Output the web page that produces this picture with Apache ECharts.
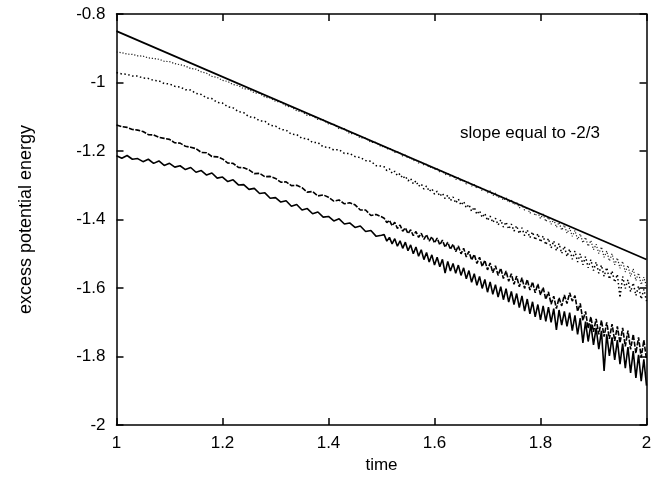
<!DOCTYPE html>
<html>
<head>
<meta charset="utf-8">
<script src="https://cdn.jsdelivr.net/npm/echarts@6/dist/echarts.min.js"></script>
<style>html,body{margin:0;padding:0;background:#fff;}#c{width:664px;height:479px;}</style>
</head>
<body>
<div id="c"></div>
<script>
const times = [1.00,1.01,1.02,1.03,1.04,1.05,1.06,1.07,1.08,1.09,
1.10,1.11,1.12,1.13,1.14,1.15,1.16,1.17,1.18,1.19,
1.20,1.21,1.22,1.23,1.24,1.25,1.26,1.27,1.28,1.29,
1.30,1.31,1.32,1.33,1.34,1.35,1.36,1.37,1.38,1.39,
1.40,1.41,1.42,1.43,1.44,1.45,1.46,1.47,1.48,1.49,1.50,
1.505,1.510,1.515,1.520,1.525,1.530,1.535,1.540,1.545,1.550,
1.555,1.560,1.565,1.570,1.575,1.580,1.585,1.590,1.595,1.600,
1.605,1.610,1.615,1.620,1.625,1.630,1.635,1.640,1.645,1.650,
1.655,1.660,1.665,1.670,1.675,1.680,1.685,1.690,1.695,1.700,
1.705,1.710,1.715,1.720,1.725,1.730,1.735,1.740,1.745,1.750,
1.755,1.760,1.765,1.770,1.775,1.780,1.785,1.790,1.795,1.800,
1.805,1.810,1.815,1.820,1.825,1.830,1.835,1.840,1.845,1.850,
1.855,1.860,1.865,1.870,1.875,1.880,1.885,1.890,1.895,1.900,
1.905,1.910,1.915,1.920,1.925,1.930,1.935,1.940,1.945,1.950,
1.955,1.960,1.965,1.970,1.975,1.980,1.985,1.990,1.995,2.000];

const run1 = [-0.911,-0.913,-0.917,-0.918,-0.922,-0.923,-0.928,-0.930,-0.932,-0.938,
-0.939,-0.945,-0.948,-0.952,-0.959,-0.961,-0.969,-0.973,-0.982,-0.985,
-0.994,-0.997,-1.006,-1.009,-1.018,-1.020,-1.030,-1.032,-1.043,-1.045,
-1.055,-1.057,-1.069,-1.071,-1.083,-1.085,-1.096,-1.097,-1.108,-1.109,
-1.121,-1.122,-1.135,-1.135,-1.149,-1.149,-1.162,-1.162,-1.175,-1.175,-1.188,
-1.186,-1.194,-1.192,-1.197,-1.204,-1.202,-1.206,-1.215,-1.212,-1.221,
-1.219,-1.228,-1.226,-1.235,-1.233,-1.241,-1.239,-1.249,-1.246,-1.254,
-1.251,-1.262,-1.258,-1.269,-1.265,-1.275,-1.271,-1.283,-1.278,-1.289,
-1.284,-1.296,-1.290,-1.302,-1.298,-1.309,-1.303,-1.316,-1.311,-1.322,
-1.316,-1.330,-1.323,-1.336,-1.331,-1.344,-1.336,-1.350,-1.343,-1.357,
-1.350,-1.366,-1.357,-1.373,-1.364,-1.382,-1.371,-1.389,-1.379,-1.397,
-1.384,-1.406,-1.393,-1.414,-1.399,-1.423,-1.408,-1.431,-1.416,-1.440,
-1.425,-1.449,-1.432,-1.458,-1.442,-1.468,-1.452,-1.478,-1.461,-1.488,
-1.472,-1.499,-1.480,-1.510,-1.492,-1.521,-1.500,-1.532,-1.512,-1.542,
-1.522,-1.553,-1.534,-1.566,-1.544,-1.578,-1.556,-1.590,-1.568,-1.596];

const run2 = [-0.971,-0.975,-0.976,-0.981,-0.981,-0.987,-0.988,-0.994,-0.995,-1.003,
-1.004,-1.011,-1.013,-1.021,-1.022,-1.032,-1.035,-1.045,-1.047,-1.058,
-1.060,-1.071,-1.074,-1.085,-1.088,-1.100,-1.102,-1.112,-1.113,-1.125,
-1.127,-1.137,-1.139,-1.151,-1.152,-1.163,-1.164,-1.175,-1.175,-1.188,
-1.189,-1.197,-1.196,-1.207,-1.207,-1.216,-1.219,-1.228,-1.230,-1.243,-1.244,
-1.246,-1.257,-1.252,-1.265,-1.259,-1.272,-1.266,-1.280,-1.273,-1.287,
-1.280,-1.296,-1.287,-1.303,-1.296,-1.311,-1.302,-1.318,-1.310,-1.326,
-1.317,-1.332,-1.323,-1.339,-1.329,-1.345,-1.334,-1.352,-1.340,-1.358,
-1.347,-1.366,-1.356,-1.376,-1.364,-1.385,-1.374,-1.394,-1.382,-1.403,
-1.390,-1.409,-1.396,-1.416,-1.401,-1.422,-1.407,-1.428,-1.413,-1.434,
-1.418,-1.441,-1.424,-1.447,-1.430,-1.453,-1.436,-1.460,-1.441,-1.466,
-1.448,-1.474,-1.455,-1.483,-1.462,-1.491,-1.470,-1.499,-1.478,-1.508,
-1.486,-1.516,-1.492,-1.524,-1.500,-1.532,-1.508,-1.541,-1.517,-1.549,
-1.524,-1.557,-1.533,-1.566,-1.540,-1.574,-1.550,-1.583,-1.560,-1.628,
-1.566,-1.601,-1.576,-1.611,-1.585,-1.622,-1.594,-1.632,-1.604,-1.638];

const run3 = [-1.124,-1.129,-1.131,-1.137,-1.139,-1.143,-1.152,-1.153,-1.160,-1.163,
-1.166,-1.176,-1.177,-1.186,-1.189,-1.193,-1.204,-1.205,-1.216,-1.217,
-1.223,-1.235,-1.236,-1.248,-1.249,-1.255,-1.266,-1.265,-1.275,-1.274,
-1.280,-1.291,-1.290,-1.301,-1.300,-1.307,-1.320,-1.318,-1.331,-1.328,
-1.335,-1.346,-1.343,-1.354,-1.351,-1.357,-1.372,-1.372,-1.388,-1.385,-1.392,
-1.396,-1.409,-1.402,-1.418,-1.408,-1.426,-1.416,-1.434,-1.424,-1.441,
-1.430,-1.447,-1.435,-1.452,-1.440,-1.458,-1.444,-1.463,-1.450,-1.468,
-1.454,-1.474,-1.460,-1.481,-1.466,-1.487,-1.472,-1.494,-1.477,-1.500,
-1.484,-1.509,-1.493,-1.518,-1.502,-1.528,-1.510,-1.537,-1.519,-1.547,
-1.527,-1.555,-1.535,-1.563,-1.542,-1.572,-1.550,-1.580,-1.558,-1.589,
-1.565,-1.596,-1.570,-1.601,-1.575,-1.606,-1.582,-1.614,-1.588,-1.620,
-1.598,-1.633,-1.611,-1.647,-1.624,-1.660,-1.628,-1.652,-1.620,-1.645,
-1.614,-1.638,-1.622,-1.668,-1.645,-1.695,-1.668,-1.718,-1.684,-1.728,
-1.690,-1.735,-1.694,-1.742,-1.700,-1.748,-1.705,-1.754,-1.712,-1.760,
-1.716,-1.770,-1.724,-1.779,-1.735,-1.790,-1.744,-1.802,-1.752,-1.808];

const run4 = [-1.214,-1.221,-1.213,-1.224,-1.222,-1.231,-1.224,-1.236,-1.229,-1.242,
-1.236,-1.247,-1.243,-1.254,-1.248,-1.262,-1.257,-1.270,-1.264,-1.279,
-1.276,-1.289,-1.284,-1.299,-1.298,-1.312,-1.309,-1.324,-1.322,-1.338,
-1.336,-1.349,-1.345,-1.361,-1.356,-1.372,-1.368,-1.383,-1.378,-1.393,
-1.391,-1.404,-1.398,-1.413,-1.410,-1.423,-1.419,-1.435,-1.432,-1.449,-1.446,
-1.444,-1.463,-1.452,-1.471,-1.456,-1.478,-1.462,-1.484,-1.466,-1.491,
-1.474,-1.500,-1.480,-1.507,-1.488,-1.517,-1.496,-1.524,-1.503,-1.533,
-1.510,-1.538,-1.516,-1.556,-1.522,-1.550,-1.528,-1.557,-1.533,-1.563,
-1.541,-1.573,-1.549,-1.583,-1.558,-1.592,-1.566,-1.601,-1.575,-1.612,
-1.582,-1.618,-1.590,-1.626,-1.596,-1.634,-1.602,-1.641,-1.610,-1.648,
-1.616,-1.657,-1.623,-1.667,-1.632,-1.675,-1.640,-1.684,-1.648,-1.693,
-1.652,-1.697,-1.656,-1.700,-1.660,-1.722,-1.664,-1.708,-1.668,-1.712,
-1.672,-1.724,-1.680,-1.735,-1.688,-1.760,-1.698,-1.756,-1.706,-1.766,
-1.716,-1.778,-1.725,-1.842,-1.735,-1.798,-1.744,-1.810,-1.752,-1.822,
-1.762,-1.834,-1.772,-1.848,-1.784,-1.862,-1.795,-1.872,-1.808,-1.885];

const slopeX = [1, 2];
const slopeY = [-0.85, -1.5167];

const xTicks = [1, 1.2, 1.4, 1.6, 1.8, 2];
const yTicks = [-2, -1.8, -1.6, -1.4, -1.2, -1, -0.8];

function zip(xs, ys) { return xs.map((x, i) => [x, ys[i]]); }

const font = 'Liberation Sans, Arial, Helvetica, sans-serif';
const chart = echarts.init(document.getElementById('c'), null, {renderer: 'canvas'});

const axisLine = {show: true, lineStyle: {color: '#000', width: 1.5}};
const tick = {show: true, inside: true, length: 7, lineStyle: {color: '#000', width: 1.5}};

chart.setOption({
  animation: false,
  backgroundColor: '#fff',
  grid: {left: 116.5, right: 17.5, top: 14, bottom: 50.5, containLabel: false},
  xAxis: [{
    type: 'value', min: xTicks[0], max: xTicks[xTicks.length - 1], interval: 0.2,
    position: 'bottom',
    name: 'time', nameLocation: 'middle', nameGap: 28,
    nameTextStyle: {color: '#000', fontSize: 17, fontFamily: font},
    axisLine: axisLine, axisTick: tick,
    axisLabel: {color: '#000', fontSize: 17, fontFamily: font, margin: 10},
    splitLine: {show: false}
  }, {
    type: 'value', min: xTicks[0], max: xTicks[xTicks.length - 1], interval: 0.2,
    position: 'top',
    axisLine: axisLine, axisTick: tick, axisLabel: {show: false}, splitLine: {show: false}
  }],
  yAxis: [{
    type: 'value', min: yTicks[0], max: yTicks[yTicks.length - 1], interval: 0.2,
    position: 'left',
    name: 'excess potential energy', nameLocation: 'middle', nameGap: 81, nameRotate: 90,
    nameTextStyle: {color: '#000', fontSize: 18, fontFamily: font},
    axisLine: axisLine, axisTick: tick,
    axisLabel: {color: '#000', fontSize: 17, fontFamily: font, margin: 11},
    splitLine: {show: false}
  }, {
    type: 'value', min: yTicks[0], max: yTicks[yTicks.length - 1], interval: 0.2,
    position: 'right',
    axisLine: axisLine, axisTick: tick, axisLabel: {show: false}, splitLine: {show: false}
  }],
  graphic: [{
    type: 'text', left: 460, top: 125,
    style: {text: 'slope equal to -2/3', fill: '#000', font: '17px ' + font}
  }],
  series: [
    {type: 'line', data: zip(slopeX, slopeY), showSymbol: false, symbol: 'none',
     lineStyle: {color: '#000', width: 1.7}, z: 5},
    {type: 'line', data: zip(times, run1), showSymbol: false, symbol: 'none',
     lineStyle: {color: '#222', width: 1.2, type: [1.2, 1.8]}},
    {type: 'line', data: zip(times, run2), showSymbol: false, symbol: 'none',
     lineStyle: {color: '#000', width: 1.5, type: [1.5, 2.5]}},
    {type: 'line', data: zip(times, run3), showSymbol: false, symbol: 'none',
     lineStyle: {color: '#000', width: 1.6, type: [5, 1.5]}},
    {type: 'line', data: zip(times, run4), showSymbol: false, symbol: 'none',
     lineStyle: {color: '#000', width: 1.6}}
  ]
});
</script>
</body>
</html>
